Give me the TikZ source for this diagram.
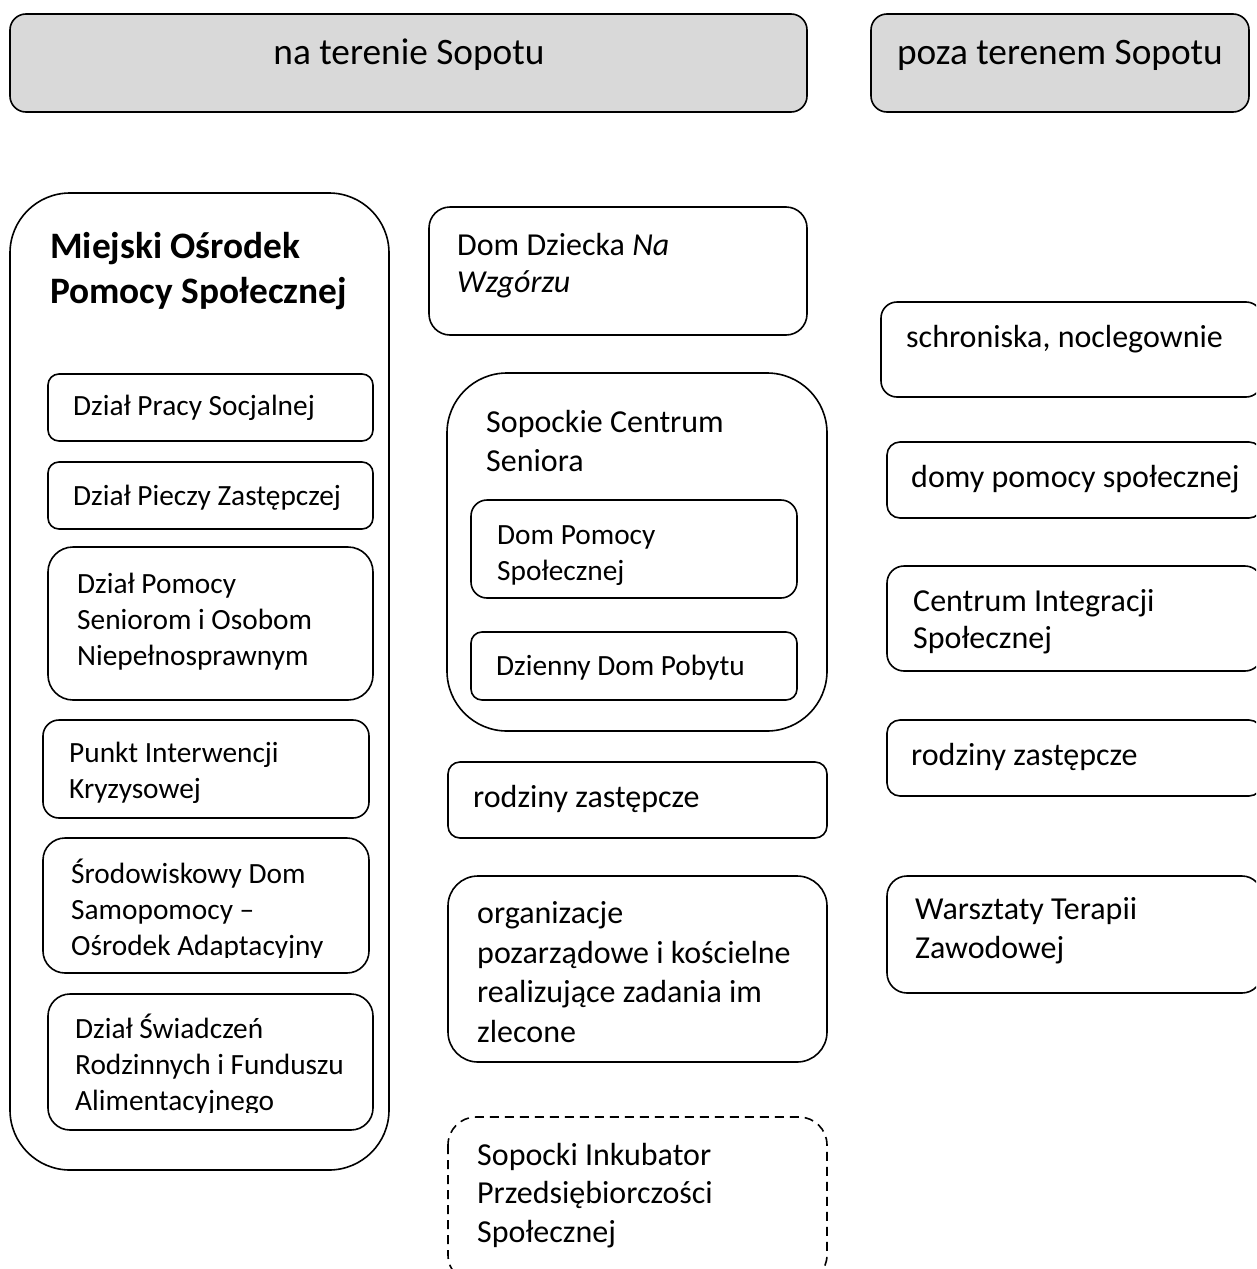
\documentclass[tikz,border=0pt]{standalone}
\usepackage{fontspec}
\setmainfont{Carlito}
\usepackage{xcolor}
\definecolor{headgray}{HTML}{D9D9D9}

\begin{document}
\begin{tikzpicture}[x=1pt, y=-1pt,
  box/.style={draw=black, line width=1.6pt},
  head/.style={box, fill=headgray},
  txt/.style={anchor=base west, inner sep=0pt, align=left, font=\fontsize{32}{38.5}\selectfont},
  smalltxt/.style={txt, font=\fontsize{29.33}{36}\selectfont},
  headtxt/.style={anchor=base, inner sep=0pt, font=\fontsize{37.33}{45}\selectfont}]
\clip (0,0) rectangle (1256,1269);

% Headers
\draw[head, rounded corners=16pt] (10,14) rectangle (807,112);
\node[headtxt] (naterenie) at (409,64) {na terenie Sopotu};
\draw[head, rounded corners=16pt] (871,14) rectangle (1249,112);
\node[headtxt] (pozaterenem) at (1060,64) {poza terenem Sopotu};

% MOPS (base anchor sits on the last line)
\draw[box, rounded corners=60pt] (10,193) rectangle (389,1170);
\node[txt, font=\fontsize{37.33}{45}\selectfont\bfseries] (mops) at (50,303) {Miejski Ośrodek\\Pomocy Społecznej};

\draw[box, rounded corners=11pt] (48,374) rectangle (373,441);
\node[smalltxt] (dzpracy) at (73,415) {Dział Pracy Socjalnej};

\draw[box, rounded corners=11pt] (48,462) rectangle (373,529);
\node[smalltxt] (dzpieczy) at (73,505) {Dział Pieczy Zastępczej};

\draw[box, rounded corners=25pt] (48,547) rectangle (373,700);
\node[smalltxt] (dzseniorzy) at (77,665) {Dział Pomocy\\Seniorom i Osobom\\Niepełnosprawnym};

\draw[box, rounded corners=16pt] (43,720) rectangle (369,818);
\node[smalltxt] (interwencja) at (69,798) {Punkt Interwencji\\Kryzysowej};

\draw[box, rounded corners=22pt] (43,838) rectangle (369,973);
\begin{scope}
\clip (43,838) rectangle (369,957);
\node[smalltxt] (samopomoc) at (71,955) {Środowiskowy Dom\\Samopomocy –\\Ośrodek Adaptacyjny};
\end{scope}

\draw[box, rounded corners=22pt] (48,994) rectangle (373,1130);
\begin{scope}
\clip (48,994) rectangle (373,1112);
\node[smalltxt] (swiadczenia) at (75,1110) {Dział Świadczeń\\Rodzinnych i Funduszu\\Alimentacyjnego};
\end{scope}

% Middle column
\draw[box, rounded corners=21pt] (429,207) rectangle (807,335);
\node[txt, font=\fontsize{32}{37}\selectfont] (domdziecka) at (457,292) {Dom Dziecka \textit{Na}\\\textit{Wzgórzu}};

\draw[box, rounded corners=60pt] (447,373) rectangle (827,731);
\node[txt, font=\fontsize{32}{39}\selectfont] (centrum) at (486,471) {Sopockie Centrum\\Seniora};

\draw[box, rounded corners=16pt] (471,500) rectangle (797,598);
\node[smalltxt] (dps) at (497,580) {Dom Pomocy\\Społecznej};

\draw[box, rounded corners=11pt] (471,632) rectangle (797,700);
\node[smalltxt] (pobyt) at (496,675) {Dzienny Dom Pobytu};

\draw[box, rounded corners=12pt] (448,762) rectangle (827,838);
\node[txt] (rodzinysrodek) at (473,807) {rodziny zastępcze};

\draw[box, rounded corners=30pt] (448,876) rectangle (827,1062);
\node[txt, font=\fontsize{32}{39.5}\selectfont] (organizacje) at (477,1042) {organizacje\\pozarządowe i kościelne\\realizujące zadania im\\zlecone};

\draw[box, dash pattern=on 9pt off 6pt, rounded corners=28pt] (448,1117) rectangle (827,1283);
\node[txt] (inkubator) at (477,1242) {Sopocki Inkubator\\Przedsiębiorczości\\Społecznej};

% Right column
\draw[box, rounded corners=16pt] (881,302) rectangle (1262,397);
\node[txt] (schroniska) at (906,347) {schroniska, noclegownie};

\draw[box, rounded corners=13pt] (887,442) rectangle (1262,518);
\node[txt] (domy) at (911,487) {domy pomocy społecznej};

\draw[box, rounded corners=17pt] (887,566) rectangle (1262,671);
\node[txt, font=\fontsize{32}{37}\selectfont] (integracja) at (913,648) {Centrum Integracji\\Społecznej};

\draw[box, rounded corners=13pt] (887,720) rectangle (1262,796);
\node[txt] (rodzinypoza) at (911,765) {rodziny zastępcze};

\draw[box, rounded corners=20pt] (887,876) rectangle (1262,993);
\node[txt] (warsztaty) at (915,958) {Warsztaty Terapii\\Zawodowej};
\end{tikzpicture}
\end{document}
